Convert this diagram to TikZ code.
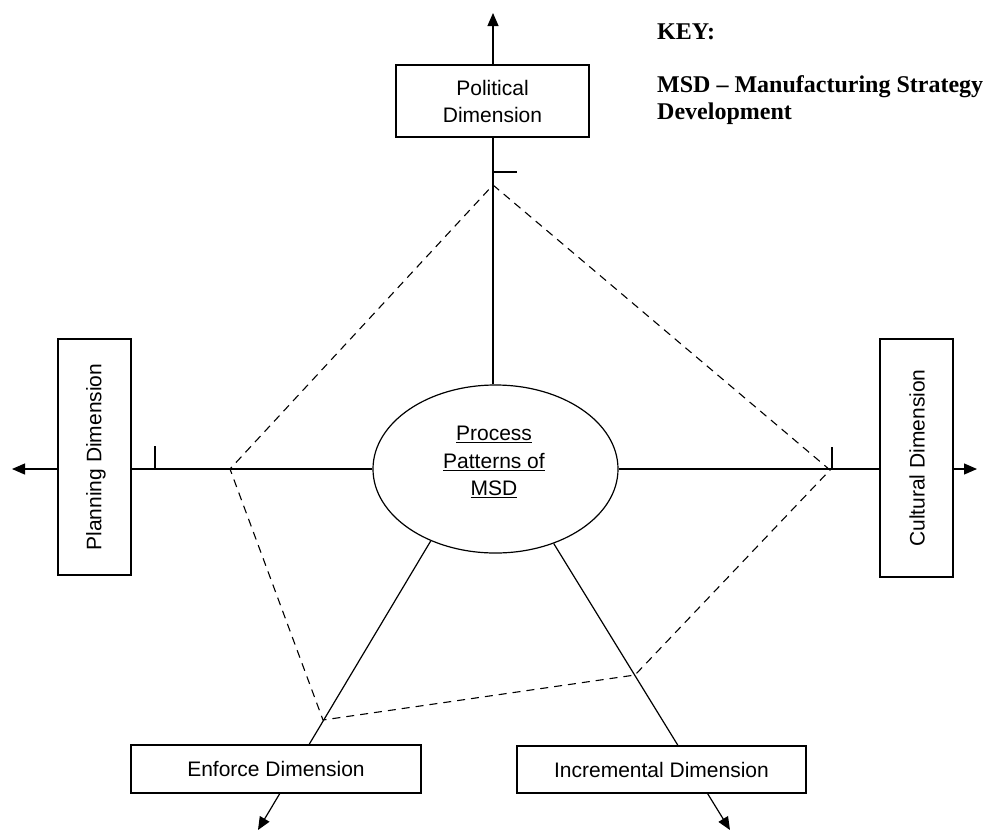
\documentclass[tikz,border=0pt]{standalone}
\usepackage{fontspec}
\setmainfont{Liberation Sans}
\newfontfamily\keyfont{Liberation Serif}
\usetikzlibrary{arrows.meta,shapes.geometric,backgrounds}

\begin{document}
\begin{tikzpicture}[x=1pt,y=-1pt,
  dimbox/.style={draw, line width=1.2pt, fill=white, inner sep=0pt, align=center,
                 font=\fontsize{21}{27}\selectfont},
  dimlabel/.style={inner sep=0pt, font=\fontsize{21}{27}\selectfont},
  axisarrow/.style={line width=1.2pt, -{Triangle[length=13pt,width=11pt]}},
  dashline/.style={line width=1.1pt, dash pattern=on 8pt off 6pt},
  tickline/.style={line width=1.2pt},
  keytext/.style={anchor=base west, inner sep=0pt,
                  font=\keyfont\bfseries\fontsize{24}{27}\selectfont}]
\useasboundingbox (0,0) rectangle (988,831);

% dimension boxes
\node[dimbox, minimum width=193pt, minimum height=72pt] (P) at (492.5,101) {Political\\Dimension};
\node[dimbox, minimum width=73pt, minimum height=236pt] (PL) at (94.5,457) {};
\node[dimlabel, rotate=90] (PLt) at (96,457) {Planning Dimension};
\node[dimbox, minimum width=73pt, minimum height=238pt] (CU) at (916.5,458) {};
\node[dimlabel, rotate=90] (CUt) at (917,458) {Cultural Dimension};
\node[dimbox, minimum width=290pt, minimum height=48pt] (EN) at (276,769) {Enforce Dimension};
\node[dimbox, minimum width=289pt, minimum height=47pt] (IN) at (661.5,769.5) {Incremental Dimension};

% central process patterns
\node[draw, ellipse, line width=1.2pt, fill=white, minimum width=245pt,
      minimum height=168pt, inner sep=0pt] (E) at (495.5,469) {};
\node[align=center, inner sep=0pt, font=\fontsize{21}{27.5}\selectfont] (ET) at (494,462)
  {\underline{Process}\\\underline{Patterns of}\\\underline{MSD}};

% key
\node[keytext] (K1) at (657,39) {KEY:};
\node[keytext] (K2) at (657,92) {MSD – Manufacturing Strategy};
\node[keytext] (K3) at (657,119) {Development};

% arrow tips of the axes
\coordinate (tN) at (493,13);
\coordinate (tW) at (12,469);
\coordinate (tE) at (977,469);
\coordinate (tSW) at (258,830);
\coordinate (tSE) at (730,830);

% axes, running under the boxes
\begin{pgfonlayer}{background}
  \draw[axisarrow] (E.north -| tN) -- (tN);
  \draw[axisarrow] (E.west) -- (tW);
  \draw[axisarrow] (E.east) -- (tE);
  \draw[axisarrow] (E.228) -- (tSW);
  \draw[axisarrow] (E.-52) -- (tSE);
\end{pgfonlayer}

% small ticks on the axes
\coordinate (kN) at (493,172);
\coordinate (kW) at (155,469);
\coordinate (kE) at (832,469);
\draw[tickline] (kN) -- ++(24,0);
\draw[tickline] (kW) -- ++(0,-23);
\draw[tickline] (kE) -- ++(0,-22);

% dashed profile joining the five dimensions
\coordinate (vN) at (493,185);
\coordinate (vE) at (830,470);
\coordinate (vSE) at (635,675);
\coordinate (vSW) at (323,720);
\coordinate (vW) at (230,469);
\draw[dashline] (vN) -- (vE) -- (vSE) -- (vSW) -- (vW) -- cycle;
\end{tikzpicture}
\end{document}
